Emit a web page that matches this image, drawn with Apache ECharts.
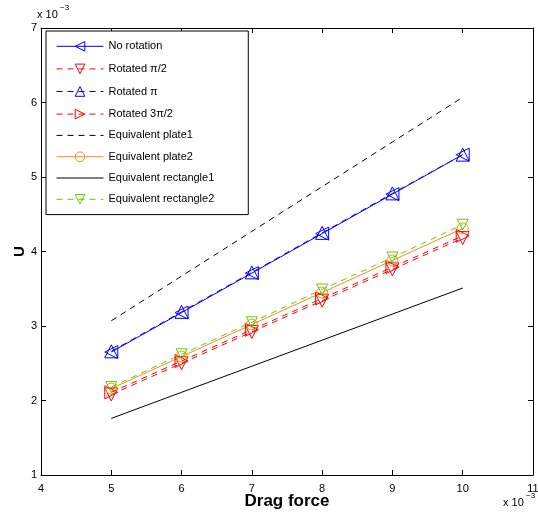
<!DOCTYPE html>
<html>
<head>
<meta charset="utf-8">
<script src="https://cdn.jsdelivr.net/npm/echarts@6/dist/echarts.min.js"></script>
<style>
  html, body { margin: 0; padding: 0; background: #fff; }
  #chart { width: 538px; height: 515px; }
</style>
</head>
<body>
<div id="chart"></div>
<script>
// Drag force (x 10^-3) and the resulting U (x 10^-3) for each configuration
const dragForce = [5, 6, 7, 8, 9, 10];
const noRotation = [2.65, 3.18, 3.71, 4.24, 4.77, 5.30];
const rotatedHalfPi = [2.08, 2.50, 2.92, 3.34, 3.76, 4.18];
const rotatedPi = [2.66, 3.19, 3.72, 4.25, 4.78, 5.30];
const rotatedThreeHalfPi = [2.11, 2.53, 2.95, 3.37, 3.79, 4.21];
const equivalentPlate1 = [3.07, 3.67, 4.27, 4.87, 5.47, 6.07];
const equivalentPlate2 = [2.16, 2.59, 3.02, 3.45, 3.88, 4.31];
const equivalentRectangle1 = [1.76, 2.11, 2.46, 2.81, 3.16, 3.51];
const equivalentRectangle2 = [2.18, 2.62, 3.05, 3.49, 3.92, 4.36];

const xRange = [4, 11];
const yRange = [1, 7];
const axisExponent = '−3';

const FONT = 'Liberation Sans, Arial, Helvetica, sans-serif';

function pairs(ys) {
  return dragForce.map((x, i) => [x, ys[i]]);
}

function makeSeries(name, ys, color, dash, symbol, rotate, size) {
  return {
    name: name,
    type: 'line',
    data: pairs(ys),
    xAxisIndex: 0,
    yAxisIndex: 0,
    symbol: symbol || 'none',
    symbolSize: size || 12,
    symbolRotate: rotate || 0,
    showSymbol: !!symbol,
    color: color,
    lineStyle: { color: color, width: 1, type: dash ? [6, 5] : 'solid' },
    itemStyle: { color: 'none', borderColor: color, borderWidth: 1 },
    emphasis: { disabled: true },
    silent: true
  };
}

const blue = '#0000ff';
const red = '#ff0000';
const black = '#000000';
const orange = '#f0901e';
const green = '#66cc00';

const series = [
  makeSeries('No rotation', noRotation, blue, false, 'triangle', 90, 13),
  makeSeries('Rotated π/2', rotatedHalfPi, red, true, 'triangle', 180, 13),
  makeSeries('Rotated π', rotatedPi, blue, true, 'triangle', 0, 13),
  makeSeries('Rotated 3π/2', rotatedThreeHalfPi, red, true, 'triangle', -90, 13),
  makeSeries('Equivalent plate1', equivalentPlate1, black, true, null),
  makeSeries('Equivalent plate2', equivalentPlate2, orange, false, 'circle', 0, 11),
  makeSeries('Equivalent rectangle1', equivalentRectangle1, black, false, null),
  makeSeries('Equivalent rectangle2', equivalentRectangle2, green, true, 'triangle', 180, 11)
];

// legend entries: plain lines carry no marker
const legendData = series.map(s => s.showSymbol
  ? { name: s.name }
  : { name: s.name, itemStyle: { color: 'none', borderColor: 'rgba(0,0,0,0)', borderWidth: 0, opacity: 0 } });

const tickCommon = { show: true, inside: true, length: 5, lineStyle: { color: '#000', width: 1 } };
const lineCommon = { show: true, onZero: false, lineStyle: { color: '#000', width: 1 } };
const labelCommon = { color: '#000', fontSize: 11, fontFamily: FONT };

const chart = echarts.init(document.getElementById('chart'), null, { renderer: 'canvas' });
chart.setOption({
  animation: false,
  backgroundColor: '#fff',
  grid: { left: 41, right: 5, top: 28, bottom: 40, show: false, containLabel: false, outerBoundsMode: 'none' },
  xAxis: [
    {
      type: 'value', min: xRange[0], max: xRange[1], interval: 1, position: 'bottom',
      name: 'Drag force', nameLocation: 'middle', nameGap: 18, nameMoveOverlap: false,
      nameTextStyle: { fontSize: 17, fontWeight: 'bold', color: '#000', fontFamily: FONT },
      axisLine: lineCommon, axisTick: tickCommon,
      axisLabel: Object.assign({ margin: 8 }, labelCommon),
      splitLine: { show: false }
    },
    {
      type: 'value', min: xRange[0], max: xRange[1], interval: 1, position: 'top',
      axisLine: lineCommon, axisTick: tickCommon, axisLabel: { show: false }, splitLine: { show: false }
    }
  ],
  yAxis: [
    {
      type: 'value', min: yRange[0], max: yRange[1], interval: 1, position: 'left',
      name: 'U', nameLocation: 'middle', nameGap: 14, nameRotate: 90, nameMoveOverlap: false,
      nameTextStyle: { fontSize: 15, fontWeight: 'bold', color: '#000', fontFamily: FONT },
      axisLine: lineCommon, axisTick: tickCommon,
      axisLabel: Object.assign({ margin: 4 }, labelCommon),
      splitLine: { show: false }
    },
    {
      type: 'value', min: yRange[0], max: yRange[1], interval: 1, position: 'right',
      axisLine: lineCommon, axisTick: tickCommon, axisLabel: { show: false }, splitLine: { show: false }
    }
  ],
  legend: {
    orient: 'vertical', left: 46, top: 31,
    itemWidth: 47, itemHeight: 12, itemGap: 8,
    padding: [8, 34, 8, 10],
    borderColor: '#000', borderWidth: 1, backgroundColor: '#fff',
    lineStyle: { width: 1 },
    itemStyle: { borderWidth: 1 },
    textStyle: { fontSize: 11, lineHeight: 12, color: '#000', fontFamily: FONT },
    selectedMode: false,
    data: legendData
  },
  graphic: [
    { type: 'text', left: 37, top: 9, style: { text: 'x 10', fontSize: 11, fill: '#000', fontFamily: FONT } },
    { type: 'text', left: 60, top: 4, style: { text: axisExponent, fontSize: 8, fill: '#000', fontFamily: FONT } },
    { type: 'text', left: 503, top: 497, style: { text: 'x 10', fontSize: 11, fill: '#000', fontFamily: FONT } },
    { type: 'text', left: 526, top: 492, style: { text: axisExponent, fontSize: 8, fill: '#000', fontFamily: FONT } }
  ],
  series: series
});
</script>
</body>
</html>
